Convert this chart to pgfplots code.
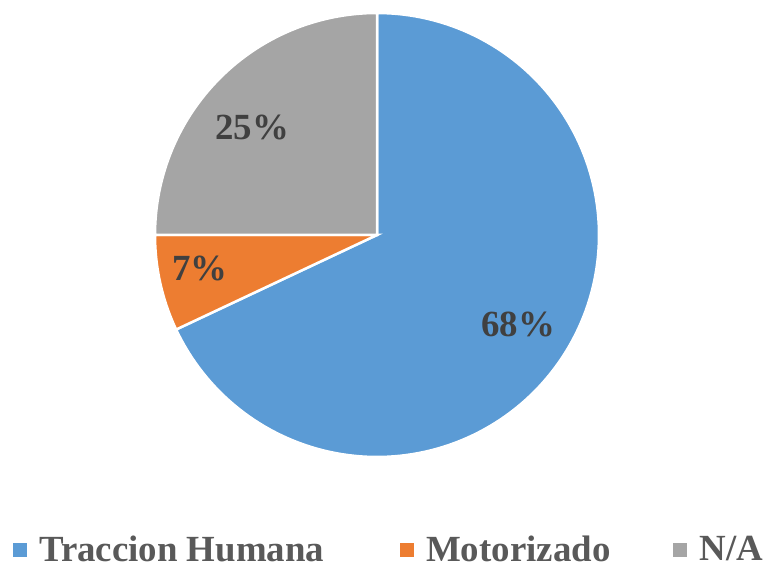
\documentclass[border=0pt]{standalone}
\usepackage{fontspec}
\setmainfont{Liberation Serif}
\usepackage{pgfplots}
\usepackage{pgfplotstable}
\pgfplotsset{compat=1.18}
\definecolor{cBlue}{HTML}{5B9BD5}
\definecolor{cOrange}{HTML}{ED7D31}
\definecolor{cGray}{HTML}{A5A5A5}
\definecolor{labelText}{HTML}{404040}
\definecolor{legText}{HTML}{595959}
\pgfplotstableread{
label value
Traccion 68
Motorizado 7
NA 25
}\piedata
\begin{document}
\begin{tikzpicture}
\pgfplotstablegetelem{0}{value}\of\piedata \let\vA\pgfplotsretval
\pgfplotstablegetelem{1}{value}\of\piedata \let\vB\pgfplotsretval
\pgfplotstablegetelem{2}{value}\of\piedata \let\vC\pgfplotsretval
\pgfmathsetmacro{\aS}{90}
\pgfmathsetmacro{\aA}{90-3.6*\vA}
\pgfmathsetmacro{\aB}{\aA-3.6*\vB}
\pgfmathsetmacro{\aC}{\aB-3.6*\vC}
\def\cx{377}\def\cy{327}\def\R{222}
\begin{axis}[
  width=768bp, height=562bp, scale only axis,
  xmin=0, xmax=768, ymin=0, ymax=562,
  hide axis, clip=false,
  legend columns=3,
  legend image code/.code={\fill[#1,draw=none] (0bp,-8bp) rectangle (14bp,6bp);},
  legend style={draw=none, fill=none, inner sep=0pt,
    at={(axis cs:13,-3)}, anchor=south west,
    font=\fontsize{37}{40}\selectfont\bfseries, text=legText,
    /tikz/every odd column/.append style={column sep=10bp},
    /tikz/every even column/.append style={column sep=61bp}},
]
\addplot[fill=cBlue, draw=white, line width=2.5bp, domain=\aS:\aA, samples=150, variable=\t]
  ({\cx+\R*cos(\t)}, {\cy+\R*sin(\t)}) -- (axis cs:\cx,\cy) -- cycle;
\addlegendentry{\makebox[298bp][l]{Traccion Humana}}
\addplot[fill=cOrange, draw=white, line width=2.5bp, domain=\aA:\aB, samples=40, variable=\t]
  ({\cx+\R*cos(\t)}, {\cy+\R*sin(\t)}) -- (axis cs:\cx,\cy) -- cycle;
\addlegendentry{Motorizado}
\addplot[fill=cGray, draw=white, line width=2.5bp, domain=\aB:\aC, samples=100, variable=\t]
  ({\cx+\R*cos(\t)}, {\cy+\R*sin(\t)}) -- (axis cs:\cx,\cy) -- cycle;
\addlegendentry{N/A}
\begin{scope}[every node/.style={font=\fontsize{37}{40}\selectfont\bfseries, text=labelText}]
\node at (axis cs:518,238) {\vA\%};
\node at (axis cs:200,294) {\vB\%};
\node at (axis cs:252,435) {\vC\%};
\end{scope}
\end{axis}
\pgfresetboundingbox
\path (current axis.south west) rectangle (current axis.north east);
\end{tikzpicture}
\end{document}
